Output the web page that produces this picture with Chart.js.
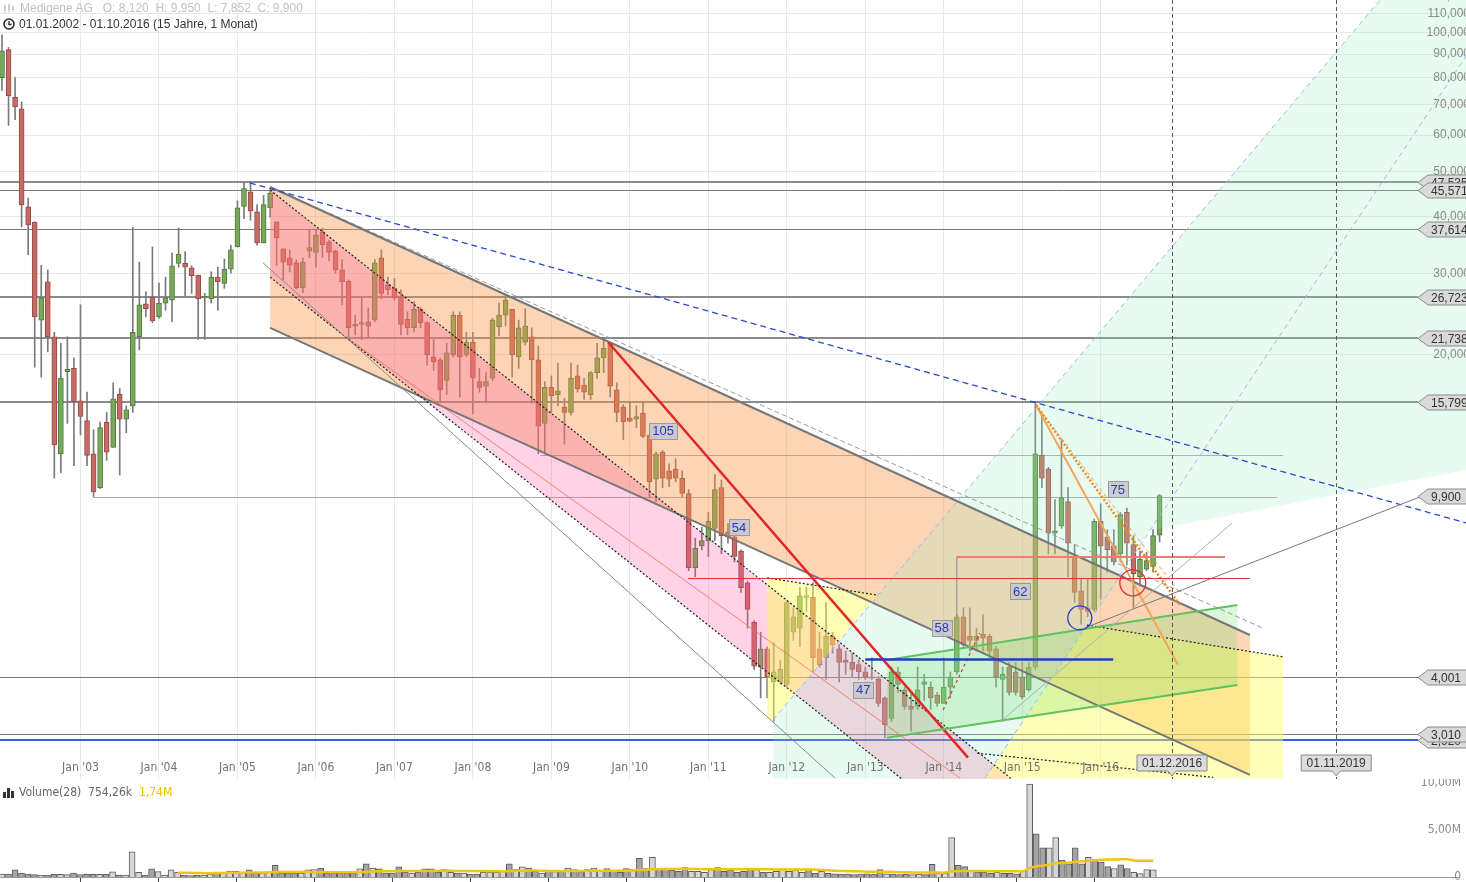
<!DOCTYPE html>
<html lang="de">
<head>
<meta charset="utf-8">
<title>Medigene AG</title>
<script src="https://cdn.jsdelivr.net/npm/chart.js@4.4.1/dist/chart.umd.min.js"></script>
<style>
  html, body { margin: 0; padding: 0; background: #fff; }
  body { width: 1466px; height: 882px; position: relative; overflow: hidden; font-family: "Liberation Sans", Arial, sans-serif; }
  #price { position: absolute; left: 0; top: 0; }
  #volume { position: absolute; left: 0; top: 779px; }
  .head1 { position: absolute; left: 3px; top: 1px; font-size: 12px; color: #c2c2c2; white-space: pre; }
  .head2 { position: absolute; left: 3px; top: 17px; font-size: 12px; color: #333; white-space: pre; }
  .head1 svg, .head2 svg, .volhead svg { vertical-align: -2px; margin-right: 4px; }
  .volhead { position: absolute; left: 3px; top: 785px; font: 12px "Liberation Sans Narrow", "DejaVu Sans Condensed", sans-serif; color: #666; white-space: pre; }
  .volhead .ma { color: #f2c200; }
</style>
</head>
<body>
<canvas id="price" width="1466" height="779"></canvas>
<canvas id="volume" width="1466" height="103"></canvas>
<div class="head1"><svg width="13" height="12"><path d="M2 2v9M6 1v10M10 3v7" stroke="#c8c8c8" stroke-width="1"/><rect x="1" y="4" width="2" height="4" fill="#c8c8c8"/><rect x="5" y="3" width="2" height="5" fill="#c8c8c8"/><rect x="9" y="5" width="2" height="3" fill="#c8c8c8"/></svg>Medigene AG   O: 8,120  H: 9,950  L: 7,852  C: 9,900</div>
<div class="head2"><svg width="12" height="12"><circle cx="6" cy="6" r="5" fill="none" stroke="#222" stroke-width="1.5"/><path d="M6 3v3.5h2.5" fill="none" stroke="#222" stroke-width="1.3"/></svg>01.01.2002 - 01.10.2016 (15 Jahre, 1 Monat)</div>
<div class="volhead"><svg width="12" height="11"><rect x="0" y="5" width="3" height="6" fill="#333"/><rect x="4" y="1" width="3" height="10" fill="#333"/><rect x="8" y="4" width="3" height="7" fill="#333"/></svg>Volume(28)  754,26k  <span class="ma">1,74M</span></div>

<script>
"use strict";

// monthly candles, index 0 = Jan 2002, last = Oct 2016
var opens = [80,92,72.6,68.4,41.9,38.8,23.8,28.8,21.9,12.2,
  18.4,18.7,15.9,14.4,12.2,10.3,14.3,12.6,16.45,14.5,
  15.5,21.9,25.8,26.7,24.2,25.9,26.3,31.6,31.6,30.9,
  29.8,26.6,26.5,29.5,28.6,30.7,34.3,42.0,45.2,40.9,
  35.0,41.7,38.9,34.0,32.5,31.7,28.0,33.6,33.4,37.0,
  35.2,33.6,30.6,28.9,23.3,23.3,23.6,23.8,32.5,28.4,
  27.9,26.7,23.9,22.9,25.1,23.5,19.8,19.5,17.6,20.0,
  24.4,20.0,21.3,17.5,17.1,17.8,23.0,24.4,25.1,19.8,
  21.3,21.9,19.5,14.2,17.0,16.4,15.4,15.0,18.0,17.2,
  16.4,18.3,19.7,21.2,16.8,15.4,14.6,14.5,14.95,13.4,
  10.75,12.3,11.2,11.3,10.8,10.0,6.9,7.7,7.9,8.4,
  10.3,8.25,8.05,7.5,6.4,5.25,4.2,4.6,3.9,3.9,
  3.85,5.0,5.1,5.95,5.95,4.6,4.4,4.9,4.6,4.35,
  4.3,4.25,4.1,4.0,3.95,3.6,3.25,4.1,3.75,3.45,
  3.45,3.85,3.8,3.65,3.5,3.8,4.1,5.4,4.9,4.8,
  4.95,4.9,4.6,3.95,4.2,4.1,4.0,3.75,4.2,12.1,
  11.3,8.2,8.5,9.6,7.3,6.15,5.65,5.6,8.7,8.05,
  7.7,7.4,9.1,7.75,6.6,6.85,6.95,8.12];
var highs = [99,93,80,70.8,43.8,38.9,31.3,30.6,22.4,21.2,
  21.9,19.7,25.7,16.6,13.75,14.3,15.0,17.4,16.9,15.5,
  37.9,31.8,27.4,34.3,28.65,29.5,33.3,37.7,33.5,31.2,
  29.8,27.2,30.3,31.0,32.3,34.6,43.2,47.3,47.5,42.4,
  44.4,45.6,38.9,34.0,33.8,32.2,32.5,37.4,37.4,37.7,
  35.5,33.8,32.2,29.1,24.4,26.6,25.3,32.2,33.8,29.5,
  29.3,27.7,24.8,26.1,25.4,23.6,21.6,19.7,21.2,24.8,
  24.8,22.4,22.4,18.7,18.3,24.0,25.9,27.0,25.1,23.8,
  25.2,22.9,20.9,17.5,18.0,19.2,16.1,19.2,19.0,17.8,
  18.4,21.2,21.7,21.3,17.4,15.6,15.8,15.5,15.8,13.4,
  12.3,12.4,11.6,11.9,11.2,10.2,8.0,8.45,9.1,11.0,
  10.7,8.6,8.1,7.55,6.45,5.3,5.0,4.65,4.75,4.35,
  5.85,5.65,6.25,6.25,6.4,5.0,5.8,5.0,4.7,4.55,
  4.5,4.35,4.2,4.4,4.0,3.62,4.2,4.2,3.8,3.7,
  4.2,4.05,3.9,3.7,4.4,4.1,5.45,5.65,5.65,5.1,
  5.45,4.95,4.65,4.2,4.3,4.3,4.3,4.3,15.8,14.9,
  11.4,9.7,13.1,10.3,7.75,6.55,6.55,8.8,9.5,8.35,
  8.35,9.1,9.3,8.1,7.5,7.45,8.35,9.95];
var lows = [75,63,64.8,37.9,33.0,18.8,17.9,20.3,10.8,11.1,
  14.2,11.5,13.4,11.5,9.85,10.25,11.8,12.6,10.97,13.55,
  15.0,20.5,24.2,23.5,24.0,25.0,23.6,31.0,26.9,27.2,
  21.6,21.6,25.9,25.0,27.9,30.1,34.3,39.5,39.2,34.6,
  35.0,39.8,31.3,29.1,30.3,27.8,27.3,32.5,31.0,32.6,
  32.0,30.1,25.7,21.8,22.1,21.6,21.9,23.6,26.5,27.0,
  26.3,22.1,22.1,22.4,22.9,19.0,18.5,15.8,16.4,19.8,
  16.2,19.8,14.9,16.6,15.8,17.6,22.0,23.1,17.9,18.7,
  21.0,15.7,12.2,12.2,15.0,15.5,12.8,14.8,16.6,16.0,
  16.0,17.8,18.3,16.2,14.3,13.1,14.3,13.9,13.2,9.8,
  9.6,10.3,10.35,10.6,9.85,6.8,6.6,7.55,7.3,7.9,
  7.4,7.8,7.1,6.1,5.1,4.15,3.6,3.6,3.2,3.85,
  3.8,4.8,4.65,5.55,4.1,4.2,3.95,4.5,3.9,4.05,
  4.0,3.95,3.95,3.95,3.45,2.95,3.2,3.7,3.4,3.05,
  3.4,3.55,3.4,3.45,3.5,3.6,4.05,4.6,4.55,4.55,
  4.55,4.4,3.8,3.2,3.65,3.65,3.58,3.72,4.15,10.3,
  7.4,7.4,8.4,6.6,5.8,5.2,5.4,5.55,5.9,6.75,
  7.0,7.1,7.0,5.65,6.3,6.8,6.75,7.852];
var closes = [91.5,73,69.1,42.3,38.3,24.2,26.6,21.9,12.75,17.8,
  18.6,15.8,14.7,12.1,10.08,13.9,12.3,16.05,14.5,15.2,
  22.4,25.7,25.2,23.7,25.9,26.6,31.2,33.1,31.0,29.7,
  26.5,26.8,29.5,28.8,30.7,33.8,41.7,45.9,41.1,35.0,
  42.4,44.9,35.9,31.8,31.3,28.0,31.8,34.2,36.4,34.7,
  33.4,30.6,28.8,22.9,23.1,23.5,23.1,31.7,27.2,27.7,
  26.6,23.3,22.9,25.1,23.5,20.0,19.3,16.8,20.2,24.4,
  19.8,21.3,17.8,17.0,17.5,23.8,24.4,26.3,20.0,22.9,
  23.1,19.5,14.0,17.0,16.3,16.7,15.0,17.8,16.9,16.6,
  18.3,19.7,20.7,17.1,15.0,14.3,14.35,14.7,13.3,10.6,
  12.2,10.8,10.75,10.8,10.0,6.9,7.6,7.9,8.7,10.2,
  8.1,8.05,7.3,6.25,5.6,4.22,4.6,4.0,4.1,4.15,
  5.8,5.4,6.0,6.0,4.4,4.25,4.9,4.7,4.3,4.3,
  4.15,4.1,4.0,3.98,3.5,3.15,4.1,3.85,3.45,3.4,
  3.75,3.9,3.6,3.5,3.8,4.0,5.4,4.7,4.8,4.9,
  4.85,4.55,4.0,4.05,3.7,3.7,3.62,4.2,12.2,10.8,
  8.2,8.3,9.8,7.8,6.1,5.6,5.55,8.7,7.7,7.55,
  7.1,9.0,7.8,6.7,7.2,7.15,8.1,9.9];
// monthly volume in millions
var volumes = [0.32,0.32,0.75,0.43,0.32,0.25,0.18,0.18,0.29,0.29,
  0.25,0.43,0.25,0.29,0.29,0.29,0.29,0.54,0.21,0.21,
  2.68,0.5,0.18,0.86,0.57,0.21,0.75,0.5,0.18,0.14,
  0.18,0.18,0.32,0.46,0.43,0.64,0.6,0.5,0.75,0.43,
  0.43,0.5,1.25,0.43,0.43,0.43,0.43,0.75,0.8,0.96,
  0.43,0.43,0.43,0.4,0.4,0.86,1.4,0.96,0.86,0.43,
  0.43,1.07,0.5,0.43,0.5,0.86,0.86,0.5,0.8,0.5,
  0.43,0.43,0.32,0.32,0.5,0.5,0.5,0.6,1.4,0.8,
  1.07,0.96,0.6,0.43,0.6,0.57,0.57,0.96,0.8,0.57,
  0.8,0.96,0.7,0.9,0.6,0.5,0.9,0.8,2.0,0.9,
  2.1,0.8,0.9,0.7,0.6,1.0,0.6,0.6,0.5,0.8,
  1.0,0.6,0.7,0.5,0.6,0.9,0.8,0.5,0.5,0.6,
  0.9,0.6,0.7,0.5,0.8,0.4,0.6,0.4,0.35,0.3,
  0.3,0.25,0.3,0.35,0.3,0.8,0.35,0.3,0.25,0.3,
  0.25,0.3,0.25,1.36,0.4,0.4,4.2,1.25,1.1,0.7,
  0.5,0.5,0.4,0.5,0.4,0.4,0.35,0.6,9.9,4.6,
  3.1,3.1,4.2,1.8,1.4,3.1,1.4,2.1,1.8,1.6,
  1.1,0.9,1.3,0.9,0.5,0.36,0.8,0.754];

var yearMonths = [12,24,36,48,60,72,84,96,108,120,132,144,156,168];
var yearLabels = ["Jan '03","Jan '04","Jan '05","Jan '06","Jan '07","Jan '08","Jan '09",
  "Jan '10","Jan '11","Jan '12","Jan '13","Jan '14","Jan '15","Jan '16"];
var priceTicks = [20,30,40,50,60,70,80,90,100,110,120];
var volumeTicks = [0,5,10];

// drawn levels and tags (price)
var levelValues = [47.535, 45.571, 37.614, 26.723, 21.738, 15.799, 4.001, 3.010];
var tagValues = [47.535, 45.571, 37.614, 26.723, 21.738, 15.799, 9.900, 4.001, 2.920, 3.010];
var blueLevel = 2.920;
// partial horizontals: [price, from month, to month]
var grayLevels = [[12.13, 82.3, 195.9], [9.83, 13.9, 195.0]];
var redLevel = [6.56, 104.9, 190.8];
var salmonLevel = [7.28, 146.0, 187.0];
var blueShortLevel = [4.37, 132.0, 169.9];

// trend lines as [[month, price], [month, price]]
var orangeTop = [[41.0, 46.3], [190.8, 4.93]];
var orangeBottom = [[41.0, 22.9], [190.8, 2.45]];
var pinkTop = [[41.0, 45.6], [155.7, 2.32]];
var pinkBottom = [[41.0, 29.5], [155.7, 1.50]];
var pinkMid = [[53.2, 21.55], [146.5, 2.41]];
var grayFall = [[39.9, 31.7], [127.4, 2.41]];
var grayDashed = [[41.0, 46.3], [192.7, 5.11]];
var blueDashed = [[37.9, 47.25], [223.9, 8.63]];
var redFall = [[92.7, 21.3], [147.7, 2.67]];
var mintLeft = [[117.9, 3.225], [210.7, 117.9]];
var mintRight = [[150.3, 2.41], [223.9, 89.2]];
var mintArea = [[117.9, 2.41], [117.9, 3.225], [210.7, 117.9], [223.9, 117.9], [223.9, 11.25],
  [175.4, 8.30], [150.3, 2.41]];
var yellowSmall = [[117.0, 6.56], [133.8, 6.02], [117.9, 3.225], [117.0, 3.225]];
var yellowBig = [[165.9, 5.18], [195.9, 4.42], [195.9, 2.41], [150.3, 2.41]];
var yellowDotted2 = [[149.1, 2.73], [185.2, 2.42]];
var greenTop = [[135.3, 4.35], [188.9, 5.73]];
var greenBottom = [[135.3, 2.95], [188.9, 3.84]];
var peakSolid = [[158.1, 15.57], [179.8, 4.25]];
var peakDotted = [[158.1, 15.57], [180.1, 5.73]];
var peakDashed = [[158.1, 15.57], [179.7, 6.18]];
var grayRiseA = [[165.6, 5.11], [216.8, 9.83]];
var grayRiseB = [[152.6, 3.19], [188.1, 8.63]];
var redDashedShort = [[143.9, 3.39], [149.5, 4.98]];
var grayVertical = [[146.0, 7.28], [146.0, 5.4]];
var blueCircle = [164.8, 5.37];
var redCircle = [172.9, 6.4];
var countLabels = [[101.1, 13.68, "105"], [112.7, 8.46, "54"], [131.7, 3.75, "47"],
  [143.7, 5.11, "58"], [155.7, 6.14, "62"], [170.6, 10.23, "75"]];
var dateMarks = [[178.9, "01.12.2016"], [204.0, "01.11.2019"]];

var xMin = -0.306, xMax = 223.85;
var NARROW = '"Liberation Sans Narrow", "DejaVu Sans Condensed", sans-serif';

function de(v, d) { return v.toFixed(d).replace('.', ','); }

function P(c, p) { return [c.scales.x.getPixelForValue(p[0]), c.scales.y.getPixelForValue(p[1])]; }

function polyPath(ctx, c, pts) {
  ctx.beginPath();
  pts.forEach(function (p, k) {
    var q = P(c, p);
    if (k) ctx.lineTo(q[0], q[1]); else ctx.moveTo(q[0], q[1]);
  });
  ctx.closePath();
}
function fillPoly(ctx, c, pts, color) { polyPath(ctx, c, pts); ctx.fillStyle = color; ctx.fill(); }
function channel(top, bottom) { return top.concat(bottom.slice().reverse()); }
function seg(ctx, c, s, color, width, dash) {
  var a = P(c, s[0]), b = P(c, s[1]);
  ctx.beginPath(); ctx.moveTo(a[0], a[1]); ctx.lineTo(b[0], b[1]);
  ctx.strokeStyle = color; ctx.lineWidth = width; ctx.setLineDash(dash || []);
  ctx.stroke(); ctx.setLineDash([]);
}
function hline(ctx, c, v, x0, x1, color, width) {
  var y = Math.round(c.scales.y.getPixelForValue(v)) + (width % 2 ? 0.5 : 0);
  ctx.beginPath(); ctx.moveTo(x0, y); ctx.lineTo(x1, y);
  ctx.strokeStyle = color; ctx.lineWidth = width; ctx.stroke();
}

var overlays = {
  id: 'overlays',
  beforeDatasetsDraw: function (c) {
    var ctx = c.ctx, a = c.chartArea, xs = c.scales.x;
    var tagX = a.right - 48;
    ctx.save();
    ctx.beginPath(); ctx.rect(a.left, a.top, a.right - a.left, a.bottom - a.top); ctx.clip();
    levelValues.forEach(function (v) {
      var thick = (v === 47.535 || v === 26.723 || v === 21.738 || v === 15.799);
      hline(ctx, c, v, a.left, tagX, thick ? '#8a8a8a' : '#7a7a7a', thick ? 2 : 1);
    });
    hline(ctx, c, blueLevel, a.left, tagX, '#3a5fd8', 2);
    grayLevels.forEach(function (g) {
      hline(ctx, c, g[0], xs.getPixelForValue(g[1]), xs.getPixelForValue(g[2]), '#a8a8a8', 1);
    });
    ctx.restore();
  },
  afterDatasetsDraw: function (c) {
    var ctx = c.ctx, a = c.chartArea, xs = c.scales.x, ys = c.scales.y;
    ctx.save();
    ctx.beginPath(); ctx.rect(a.left, a.top, a.right - a.left, a.bottom - a.top); ctx.clip();

    // shaded zones
    fillPoly(ctx, c, channel(orangeTop, orangeBottom), 'rgba(245,150,70,0.40)');
    fillPoly(ctx, c, channel(pinkTop, pinkBottom), 'rgba(255,80,160,0.26)');
    fillPoly(ctx, c, mintArea, 'rgba(150,235,185,0.22)');
    fillPoly(ctx, c, yellowSmall, 'rgba(255,255,90,0.45)');
    fillPoly(ctx, c, yellowBig, 'rgba(255,255,100,0.45)');
    fillPoly(ctx, c, channel(greenTop, greenBottom), 'rgba(110,225,110,0.25)');

    // trend lines
    seg(ctx, c, grayDashed, '#9a9a9a', 1, [5, 3]);
    seg(ctx, c, orangeTop, '#777', 2);
    seg(ctx, c, orangeBottom, '#777', 2);
    seg(ctx, c, pinkTop, '#222', 1.2, [2, 2]);
    seg(ctx, c, pinkBottom, '#222', 1.2, [2, 2]);
    seg(ctx, c, pinkMid, 'rgba(240,110,90,0.8)', 1);
    seg(ctx, c, grayFall, '#8a8a8a', 1);
    seg(ctx, c, blueDashed, '#2a48d0', 1.3, [6, 4]);
    seg(ctx, c, redFall, '#e3262a', 2.5);
    seg(ctx, c, mintLeft, '#9fb6ea', 1, [5, 4]);
    seg(ctx, c, mintRight, '#9fb6ea', 1, [5, 4]);
    seg(ctx, c, [yellowSmall[0], yellowSmall[1]], '#222', 1.2, [2, 2]);
    seg(ctx, c, [yellowBig[0], yellowBig[1]], '#222', 1.2, [2, 2]);
    seg(ctx, c, yellowDotted2, '#222', 1.2, [2, 2]);
    seg(ctx, c, greenTop, '#5fc25f', 2);
    seg(ctx, c, greenBottom, '#5fc25f', 2);
    seg(ctx, c, peakSolid, '#f4a55c', 2);
    seg(ctx, c, peakDashed, '#f0a050', 1, [4, 3]);
    seg(ctx, c, peakDotted, '#f08a1e', 2.5, [2, 2]);
    seg(ctx, c, grayRiseA, '#777', 1);
    seg(ctx, c, grayRiseB, '#b0b0b0', 1);
    seg(ctx, c, redDashedShort, '#e03030', 1.2, [3, 3]);
    seg(ctx, c, grayVertical, '#888', 1);

    hline(ctx, c, redLevel[0], xs.getPixelForValue(redLevel[1]), xs.getPixelForValue(redLevel[2]), '#e53030', 1);
    hline(ctx, c, salmonLevel[0], xs.getPixelForValue(salmonLevel[1]), xs.getPixelForValue(salmonLevel[2]), '#f37a72', 2);
    hline(ctx, c, blueShortLevel[0], xs.getPixelForValue(blueShortLevel[1]), xs.getPixelForValue(blueShortLevel[2]), '#1f3fc0', 2.5);

    // circles
    [[blueCircle, '#2a3fd0', 12], [redCircle, '#e03030', 13]].forEach(function (o) {
      var p = P(c, o[0]);
      ctx.beginPath(); ctx.arc(p[0], p[1], o[2], 0, Math.PI * 2);
      ctx.strokeStyle = o[1]; ctx.lineWidth = 1.3; ctx.stroke();
    });

    // date verticals
    dateMarks.forEach(function (d) {
      var x = Math.round(xs.getPixelForValue(d[0])) + 0.5;
      ctx.beginPath(); ctx.moveTo(x, a.top); ctx.lineTo(x, a.bottom);
      ctx.strokeStyle = '#555'; ctx.lineWidth = 1; ctx.setLineDash([4, 3]); ctx.stroke(); ctx.setLineDash([]);
    });

    // count boxes
    ctx.font = '13px "Liberation Sans", Arial, sans-serif';
    ctx.textAlign = 'center'; ctx.textBaseline = 'middle';
    countLabels.forEach(function (l) {
      var p = P(c, l), w = ctx.measureText(l[2]).width + 6;
      ctx.fillStyle = 'rgba(200,200,205,0.9)'; ctx.strokeStyle = '#9a9a9a'; ctx.lineWidth = 1;
      ctx.fillRect(Math.round(p[0] - w / 2) + 0.5, Math.round(p[1] - 8) + 0.5, Math.round(w), 16);
      ctx.strokeRect(Math.round(p[0] - w / 2) + 0.5, Math.round(p[1] - 8) + 0.5, Math.round(w), 16);
      ctx.fillStyle = '#2838c8'; ctx.fillText(l[2], p[0], p[1] + 1);
    });

    // year labels inside the plot
    ctx.font = '12px ' + NARROW;
    ctx.fillStyle = '#707070';
    yearMonths.forEach(function (m, k) {
      ctx.fillText(yearLabels[k], xs.getPixelForValue(m), a.bottom - 11);
    });

    // date tags at bottom
    ctx.font = '12px "Liberation Sans", Arial, sans-serif';
    dateMarks.forEach(function (d) {
      var x = xs.getPixelForValue(d[0]), w = 70, top = a.bottom - 24, h = 16;
      ctx.beginPath();
      ctx.moveTo(x - w / 2, top); ctx.lineTo(x + w / 2, top); ctx.lineTo(x + w / 2, top + h);
      ctx.lineTo(x + 4, top + h); ctx.lineTo(x, top + h + 5); ctx.lineTo(x - 4, top + h);
      ctx.lineTo(x - w / 2, top + h); ctx.closePath();
      ctx.fillStyle = '#dcdcdc'; ctx.fill(); ctx.strokeStyle = '#888'; ctx.stroke();
      ctx.fillStyle = '#333'; ctx.fillText(d[1], x, top + h / 2 + 1);
    });
    ctx.restore();

    // right axis labels
    ctx.save();
    ctx.font = '12px "Liberation Sans", Arial, sans-serif';
    ctx.fillStyle = '#8a8a8a'; ctx.textAlign = 'right'; ctx.textBaseline = 'middle';
    priceTicks.forEach(function (v) {
      ctx.fillText(de(v, 3), a.right + 4, ys.getPixelForValue(v));
    });
    // price tags
    tagValues.forEach(function (v) {
      var y = Math.round(ys.getPixelForValue(v)) + 0.5, xl = a.right - 48, xb = xl + 10, xr = a.right + 3, h = 15;
      ctx.beginPath();
      ctx.moveTo(xl, y); ctx.lineTo(xb, y - h / 2); ctx.lineTo(xr, y - h / 2);
      ctx.lineTo(xr, y + h / 2); ctx.lineTo(xb, y + h / 2); ctx.closePath();
      ctx.fillStyle = '#dadada'; ctx.fill(); ctx.strokeStyle = '#8a8a8a'; ctx.lineWidth = 1; ctx.stroke();
      ctx.fillStyle = '#333'; ctx.textAlign = 'left';
      ctx.fillText(de(v, 3), xb + 3, y + 1);
    });
    ctx.restore();
  }
};

var months = opens.map(function (_, i) { return i; });
var bodies = months.map(function (i) { return { x: i, y: [opens[i], closes[i]] }; });
var wicks = months.map(function (i) { return { x: i, y: [lows[i], highs[i]] }; });
var bodyFill = months.map(function (i) { return closes[i] >= opens[i] ? '#78a85a' : '#c76a64'; });
var bodyLine = months.map(function (i) { return closes[i] >= opens[i] ? '#52793c' : '#984a46'; });

new Chart(document.getElementById('price'), {
  type: 'bar',
  data: {
    datasets: [
      { data: wicks, backgroundColor: '#7a7a7a', barThickness: 1, grouped: false, order: 2 },
      { data: bodies, backgroundColor: bodyFill, borderColor: bodyLine, borderWidth: 1,
        borderSkipped: false, barThickness: 5, grouped: false, order: 1 }
    ]
  },
  options: {
    responsive: false, animation: false, events: [],
    layout: { padding: 0, autoPadding: false },
    plugins: { legend: { display: false }, tooltip: { enabled: false } },
    scales: {
      x: {
        type: 'linear', min: xMin, max: xMax, offset: false,
        afterBuildTicks: function (s) { s.ticks = yearMonths.map(function (m) { return { value: m }; }); },
        grid: { color: '#e8e8e8', drawTicks: false, offset: false },
        border: { display: false },
        ticks: { display: false }
      },
      y: {
        type: 'logarithmic', position: 'right', min: 2.40, max: 117.9,
        afterBuildTicks: function (s) { s.ticks = priceTicks.map(function (v) { return { value: v }; }); },
        grid: { color: '#e8e8e8', drawTicks: false },
        border: { display: false },
        ticks: { display: false }
      }
    }
  },
  plugins: [overlays]
});

// 28-period moving average of the volume, as the indicator draws it
var maLength = 28;
var maPoints = [];
volumes.forEach(function (v, i) {
  if (i < maLength - 1) return;
  var s = 0;
  for (var k = i - maLength + 1; k <= i; k++) s += volumes[k];
  maPoints.push({ x: i, y: s / maLength });
});
var volPoints = months.map(function (i) { return { x: i, y: volumes[i] }; });
var volFill = months.map(function (i) { return closes[i] >= opens[i] ? '#d6d6d6' : '#a4a4a4'; });

var volumeLabels = {
  id: 'volumeLabels',
  afterDraw: function (c) {
    var ctx = c.ctx, a = c.chartArea, ys = c.scales.y;
    ctx.save();
    ctx.font = '12px ' + NARROW;
    ctx.fillStyle = '#8a8a8a'; ctx.textAlign = 'right'; ctx.textBaseline = 'middle';
    volumeTicks.forEach(function (v) {
      ctx.fillText(v === 0 ? '0' : de(v, 2) + 'M', a.right + 3, ys.getPixelForValue(v));
    });
    ctx.restore();
  }
};

new Chart(document.getElementById('volume'), {
  type: 'bar',
  data: {
    datasets: [
      { type: 'line', data: maPoints, borderColor: '#f2c416', borderWidth: 2.5, pointRadius: 0,
        tension: 0.35, order: 0 },
      { type: 'bar', data: volPoints, backgroundColor: volFill, borderColor: '#5c5c5c', borderWidth: 1,
        barThickness: 6, grouped: false, order: 1 }
    ]
  },
  options: {
    responsive: false, animation: false, events: [],
    layout: { padding: 0, autoPadding: false },
    plugins: { legend: { display: false }, tooltip: { enabled: false } },
    scales: {
      x: {
        type: 'linear', min: xMin, max: xMax, offset: false,
        afterBuildTicks: function (s) { s.ticks = yearMonths.map(function (m) { return { value: m }; }); },
        grid: { drawOnChartArea: false, drawTicks: true, tickLength: 5, color: '#444', offset: false },
        border: { display: true, color: '#9a9a9a' },
        ticks: { display: false }
      },
      y: {
        position: 'right', min: 0, max: 10.43,
        afterBuildTicks: function (s) { s.ticks = volumeTicks.map(function (v) { return { value: v }; }); },
        grid: { display: false }, border: { display: false },
        ticks: { display: false }
      }
    }
  },
  plugins: [volumeLabels]
});
</script>
</body>
</html>
